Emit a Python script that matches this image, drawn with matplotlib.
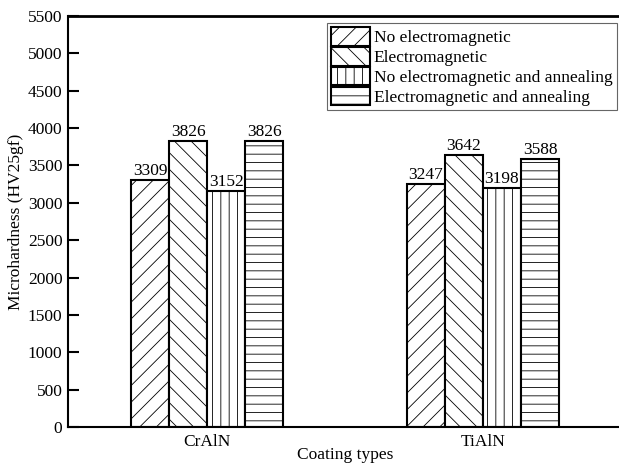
import matplotlib
matplotlib.use("Agg")
import matplotlib.pyplot as plt
import numpy as np

plt.rcParams['font.family'] = ['Liberation Serif', 'DejaVu Serif']
plt.rcParams['hatch.linewidth'] = 0.6
plt.rcParams['font.size'] = 12.5

categories = ["CrAlN", "TiAlN"]
series_names = ["No electromagnetic", "Electromagnetic",
                "No electromagnetic and annealing", "Electromagnetic and annealing"]
values = [
    [3309, 3247],
    [3826, 3642],
    [3152, 3198],
    [3826, 3588],
]
hatches = ['//', '\\\\', '||', '--']
yticks = list(range(0, 5501, 500))

fig = plt.figure(figsize=(6.19, 4.68), dpi=100)
ax = fig.add_axes([68/619, 1-427/468, 554/619, 411/468])

x = np.arange(len(categories))
w = 0.138
for i, (name, vals, h) in enumerate(zip(series_names, values, hatches)):
    pos = x + (i - 1.5) * w
    bars = ax.bar(pos, vals, width=w, color='white', edgecolor='black',
                  linewidth=1.5, hatch=h, label=name)
    for b, v in zip(bars, vals):
        ax.text(b.get_x() + b.get_width()/2, v + 15, str(v),
                ha='center', va='bottom', fontsize=12.5)

ax.set_xlim(-0.504, 1.504)
ax.set_ylim(0, 5500)
ax.set_yticks(yticks)
ax.set_xticks(x)
ax.set_xticklabels(categories)
ax.tick_params(axis='y', direction='in', length=8, width=1.5, labelsize=12.5, pad=4)
ax.tick_params(axis='x', length=0, labelsize=12.5, pad=5)
ax.set_ylabel("Microhardness (HV25gf)", fontsize=12.5, labelpad=3)
ax.set_xlabel("Coating types", fontsize=12.5, labelpad=-2)
for s in ['left', 'bottom']:
    ax.spines[s].set_linewidth(1.5)
ax.spines['top'].set_linewidth(2)
ax.spines['right'].set_visible(False)

leg = ax.legend(loc='upper right', bbox_to_anchor=(617/619, 1-23/468),
                bbox_transform=fig.transFigure, borderaxespad=0,
                fancybox=False, framealpha=1, edgecolor='0.4',
                handlelength=2.2, handleheight=1.25, labelspacing=0.05,
                handletextpad=0.25, borderpad=0.25, fontsize=12.5)
leg.get_frame().set_linewidth(0.8)

fig.savefig("out.png", dpi=100)
